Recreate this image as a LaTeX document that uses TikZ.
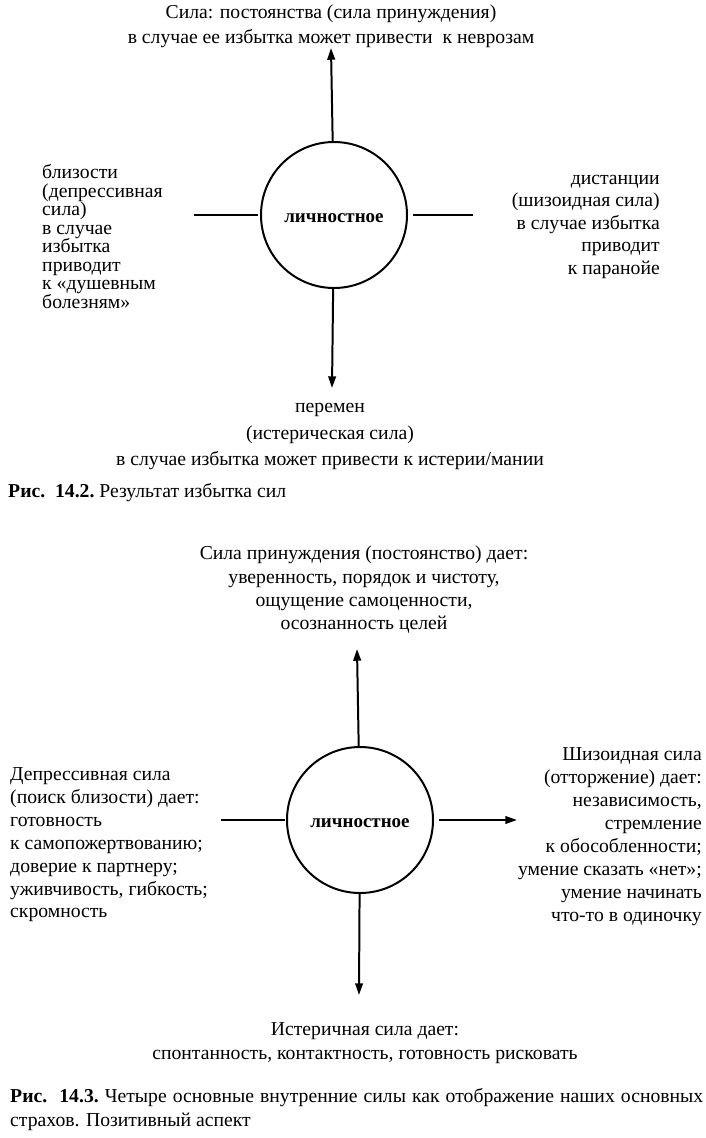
\documentclass[tikz,border=0pt]{standalone}
\usepackage{fontspec}
\setmainfont{Liberation Serif}
\usepackage{tikz}
\usetikzlibrary{arrows.meta,positioning}
\newcommand{\lnst}{\rule{0pt}{12pt}}
\lineskiplimit=-20pt\relax

\begin{document}
\begin{tikzpicture}[x=0.03cm, y=-0.03cm, every node/.style={inner sep=0pt, font=\fontsize{16.8}{19.6}\selectfont}]
    \tikzset{crc/.style={circle, draw, line width=1.7pt, minimum size=4.38cm, text height=14pt, text depth=0.6pt, font=\fontsize{16.2}{19}\selectfont\bfseries},
             ln/.style={line width=1.7pt},
             frc/.style={line width=1.7pt, -{Triangle[length=10pt, width=6.5pt]}}}
    \useasboundingbox (0,0) rectangle (706,1138);
    % рис. 14.2
    \node[crc] (pA) at (334,215) {личностное};
    \coordinate (upA) at (331,48);
    \coordinate (dnA) at (332,388);
    \coordinate (lA) at (194,215);
    \coordinate (rA) at (473,215);
    \draw[frc] (pA) -- (upA);
    \draw[frc] (pA) -- (dnA);
    \draw[ln, shorten >=2pt] (lA) -- (pA);
    \draw[ln, shorten <=4pt] (pA) -- (rA);
    \node[anchor=north, align=center, font=\fontsize{16.8}{21.5}\selectfont] (topA) at (331,4.5)
        {\lnst Сила: постоянства (сила принуждения)\\в случае ее избытка может привести\ \ к неврозам};
    \node[anchor=north west, align=left, font=\fontsize{16.8}{15.8}\selectfont] (leftA) at (42,164.5)
        {\lnst близости\\(депрессивная\\сила)\\в случае\\избытка\\приводит\\к «душевным\\болезням»};
    \node[anchor=north east, align=right, font=\fontsize{16.8}{19.2}\selectfont] (rightA) at (660,170)
        {\lnst дистанции\\(шизоидная сила)\\в случае избытка\\приводит\\к паранойе};
    \node[anchor=north, align=center, font=\fontsize{16.8}{22.6}\selectfont] (botA) at (330,398.5)
        {\lnst перемен\\(истерическая сила)\\в случае избытка может привести к истерии/мании};
    \node[anchor=north west] (capA) at (8,483.5) {\lnst\textbf{Рис.\ \ 14.2.}\ Результат избытка сил};
    % рис. 14.3
    \node[crc] (pB) at (360,820) {личностное};
    \coordinate (upB) at (357,649);
    \coordinate (dnB) at (359,995);
    \coordinate (lB) at (221,820);
    \coordinate (rB) at (517,820);
    \draw[frc] (pB) -- (upB);
    \draw[frc] (pB) -- (dnB);
    \draw[ln, shorten >=1pt] (lB) -- (pB);
    \draw[frc, shorten <=4pt] (pB) -- (rB);
    \node[anchor=north, align=center, font=\fontsize{16.8}{19.9}\selectfont] (topB) at (364,545.5)
        {\lnst Сила принуждения (постоянство) дает:\\уверенность, порядок и чистоту,\\ощущение самоценности,\\осознанность целей};
    \node[anchor=north west, align=left, font=\fontsize{16.8}{19.5}\selectfont] (leftB) at (10,766.5)
        {\lnst Депрессивная сила\\(поиск близости) дает:\\готовность\\к самопожертвованию;\\доверие к партнеру;\\уживчивость,\ гибкость;\\скромность};
    \node[anchor=north east, align=right, font=\fontsize{16.8}{19.6}\selectfont] (rightB) at (702,746.5)
        {\lnst Шизоидная сила\\(отторжение) дает:\\независимость,\\стремление\\к обособленности;\\умение сказать «нет»;\\умение начинать\\что-то в одиночку};
    \node[anchor=north, align=center, font=\fontsize{16.8}{20.5}\selectfont] (botB) at (365,1021.5)
        {\lnst Истеричная сила дает:\\спонтанность, контактность, готовность рисковать};
    \node[anchor=north west, align=left, font=\fontsize{16.8}{20.5}\selectfont] (capB) at (10,1088.5)
        {\makebox[20.79cm][s]{\lnst\textbf{Рис.\ \ 14.3.}\ Четыре основные внутренние силы как отображение наших основных}\\страхов. Позитивный аспект};
\end{tikzpicture}
\end{document}
